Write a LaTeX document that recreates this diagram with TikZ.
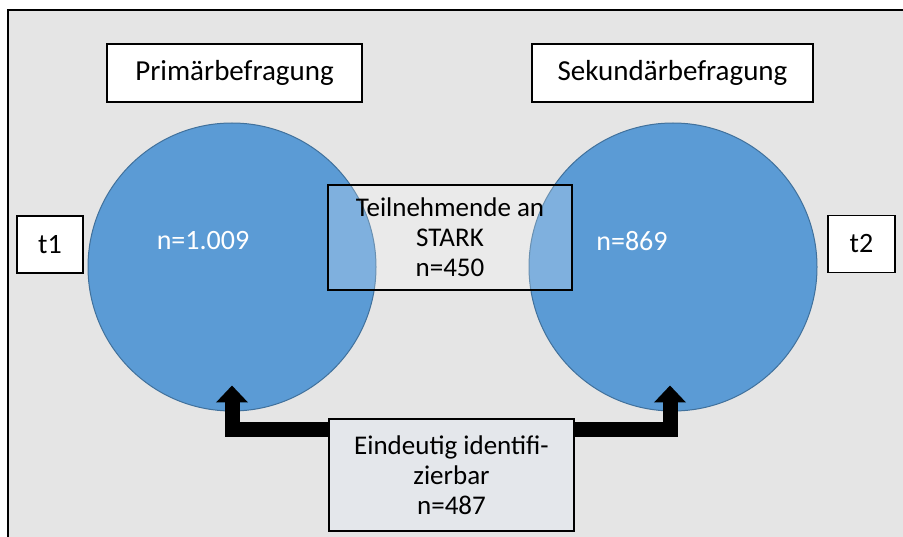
\documentclass[tikz,border=0pt]{standalone}
\usepackage{fontspec}
\setmainfont{Carlito}
\usepackage{xcolor}
\usetikzlibrary{arrows.meta, positioning}

\definecolor{bggray}{HTML}{E5E5E5}
\definecolor{circblue}{HTML}{5B9BD5}
\definecolor{circedge}{HTML}{41719C}
\definecolor{boxgray}{HTML}{E4E7EB}

\begin{document}
\begin{tikzpicture}[x=1pt, y=-1pt,
  title/.style={rectangle, draw, line width=1.3pt, fill=white, minimum width=255pt, minimum height=58pt, font=\fontsize{29}{34}\selectfont},
  tbox/.style={rectangle, draw, line width=1.3pt, fill=white, minimum width=66pt, minimum height=57pt, font=\fontsize{28}{33}\selectfont},
  survey/.style={circle, draw=circedge, line width=1pt, fill=circblue, minimum size=288pt, inner sep=0pt},
  count/.style={text=white, font=\fontsize{28}{33}\selectfont},
  infobox/.style={rectangle, draw, line width=1.3pt, align=center, minimum width=244pt, font=\fontsize{27}{30}\selectfont},
  link/.style={line width=15pt, line join=miter, -{Triangle[length=17pt, width=31pt]}}]

  \useasboundingbox (0,0) rectangle (903,537);
  \fill[bggray] (8,10) rectangle (903,537);
  \draw[line width=2pt] (8,537) -- (8,10) -- (903,10);

  % circles
  \node[survey] (prim) at (232,267) {};
  \node[survey] (sek) at (673,267) {};
  \node[count] (nprim) at (203,241) {n=1.009};
  \node[count] (nsek) at (632,241) {n=869};

  % headings and time points
  \node[title] (primtitle) at (234.5,73) {Primärbefragung};
  \node[title, minimum width=281pt] (sektitle) at (672.5,73) {Sekundärbefragung};
  \node[tbox] (t1) at (50,244.5) {t1};
  \node[tbox, minimum width=67pt] (t2) at (861.5,244) {t2};

  % overlap and matched cases
  \node[infobox, fill=white, fill opacity=0.22, text opacity=1, minimum height=105pt] (stark) at (450,237.5) {Teilnehmende an\\STARK\\n=450};
  \node[infobox, fill=boxgray, minimum width=245pt, minimum height=112pt] (match) at (451.5,475) {Eindeutig identifi-\\zierbar\\n=487};

  \draw[link] ([yshift=-11pt]match.north west) -| ([yshift=26pt]prim.south);
  \draw[link] ([yshift=-11pt]match.north east) -| ([xshift=-3pt, yshift=26pt]sek.south);

\end{tikzpicture}
\end{document}
